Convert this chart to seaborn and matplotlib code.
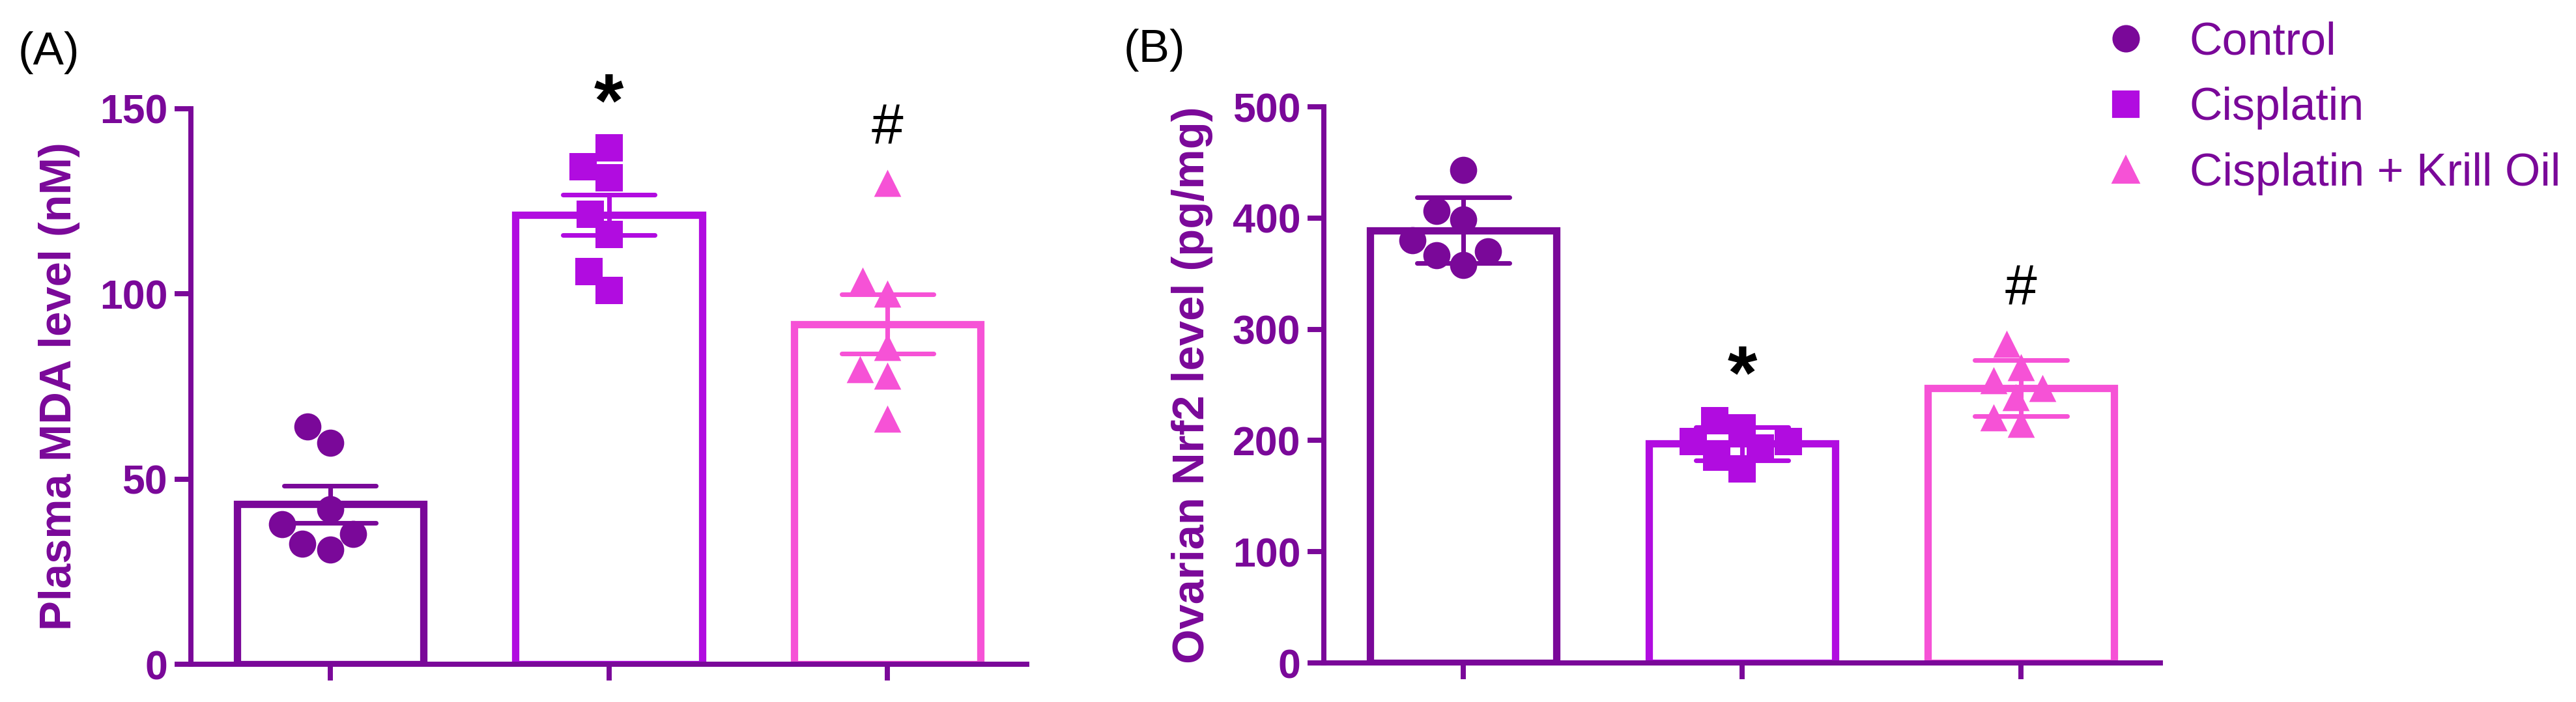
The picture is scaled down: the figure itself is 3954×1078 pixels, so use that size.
import numpy as np
import pandas as pd
import matplotlib
matplotlib.use('Agg')
import matplotlib.pyplot as plt
from matplotlib.lines import Line2D
import seaborn as sns

groups = ['Control', 'Cisplatin', 'Cisplatin + Krill Oil']
colors = ['#7A0899', '#B10CE0', '#F652D6']
markers = ['o', 's', '^']

# (A) plasma MDA, nM  -> bars show mean +/- SEM
mda_control = [64.2, 59.8, 41.8, 37.8, 35.2, 32.6, 30.9]
mda_cisplatin = [139.4, 134.3, 131.3, 121.5, 116.0, 106.1, 100.9]
mda_krill = [129.9, 103.6, 100.0, 85.7, 79.7, 77.9, 66.3]
mda_marks = ['', '*', '#']

# (B) ovarian Nrf2, pg/mg  -> bars show mean +/- SD
nrf2_control = [443.2, 406.5, 398.7, 379.8, 370.0, 366.7, 357.7]
nrf2_cisplatin = [217.8, 211.5, 198.9, 198.9, 193.0, 185.2, 174.3]
nrf2_krill = [287.0, 266.0, 254.0, 247.0, 239.0, 221.0, 215.0]
nrf2_marks = ['', '*', '#']

PURPLE = '#7A0899'


def panel(ax, values, ylabel, ymax, step, err, marks):
    df = pd.DataFrame({
        'group': np.repeat(groups, [len(v) for v in values]),
        'value': np.concatenate(values),
    })
    sns.barplot(data=df, x='group', y='value', hue='group', order=groups,
                hue_order=groups, palette=colors, fill=False, width=0.67,
                errorbar=err, capsize=0.33, linewidth=2.7,
                err_kws={'linewidth': 1.7}, legend=False, ax=ax)
    for g, c, m in zip(groups, colors, markers):
        sns.swarmplot(data=df[df['group'] == g], x='group', y='value',
                      order=groups, color=c, marker=m, size=10,
                      linewidth=0, ax=ax)

    # significance marks above the highest point
    mark_style = {'*': (28, 'bold', 8.0), '#': (21, 'normal', 14.5)}
    for i, (vals, mk) in enumerate(zip(values, marks)):
        if mk:
            size, weight, dy = mark_style[mk]
            ax.annotate(mk, (i, max(vals)), xytext=(0, dy),
                        textcoords='offset points', ha='center', va='baseline',
                        fontsize=size, fontweight=weight,
                        color='black', annotation_clip=False)

    ax.set_xlim(-0.5, 2.5)
    ax.set_ylim(0, ymax)
    ax.set_yticks(np.arange(0, ymax + 1, step))
    ax.set_xticks(range(3))
    ax.set_xticklabels([])
    ax.set_xlabel('')
    sns.despine(ax=ax)
    for s in ['left', 'bottom']:
        ax.spines[s].set_linewidth(1.9)
        ax.spines[s].set_color(PURPLE)
        ax.spines[s].set_capstyle('projecting')
    ax.tick_params(length=6, width=1.9, color=PURPLE, labelcolor=PURPLE,
                   labelsize=15, pad=2.6, direction='out')
    for lbl in ax.get_yticklabels():
        lbl.set_fontweight('bold')
    ax.set_ylabel(ylabel, fontsize=16.5, fontweight='bold', color=PURPLE,
                  labelpad=7)


sns.set_theme(style='ticks')
plt.rcParams['font.family'] = ['Liberation Sans', 'DejaVu Sans']

W, H = 3954, 1078
fig = plt.figure(figsize=(W / 300, H / 300), dpi=300)
ax_a = fig.add_axes([293 / W, 1 - 1020 / H, (1576 - 293) / W, (1020 - 167) / H])
ax_b = fig.add_axes([2032 / W, 1 - 1018 / H, (3316 - 2032) / W, (1018 - 164) / H])

panel(ax_a, [mda_control, mda_cisplatin, mda_krill],
      'Plasma MDA level (nM)', 150, 50, 'se', mda_marks)
panel(ax_b, [nrf2_control, nrf2_cisplatin, nrf2_krill],
      'Ovarian Nrf2 level (pg/mg)', 500, 100, 'sd', nrf2_marks)

fig.text(28 / W, 1 - 48 / H, '(A)', fontsize=17, va='top', ha='left', color='black')
fig.text(1725 / W, 1 - 44 / H, '(B)', fontsize=17, va='top', ha='left', color='black')

handles = [Line2D([], [], linestyle='none', marker=m, color=c, markersize=9.1)
           for m, c in zip(markers, colors)]
fig.legend(handles, groups, loc='upper left',
           bbox_to_anchor=(3228 / W, 1 - 32 / H), frameon=False,
           fontsize=16.8, labelcolor=PURPLE, handlelength=1.0,
           handletextpad=0.9, labelspacing=0.5, borderpad=0, borderaxespad=0)

fig.savefig('out.png', dpi=300)
